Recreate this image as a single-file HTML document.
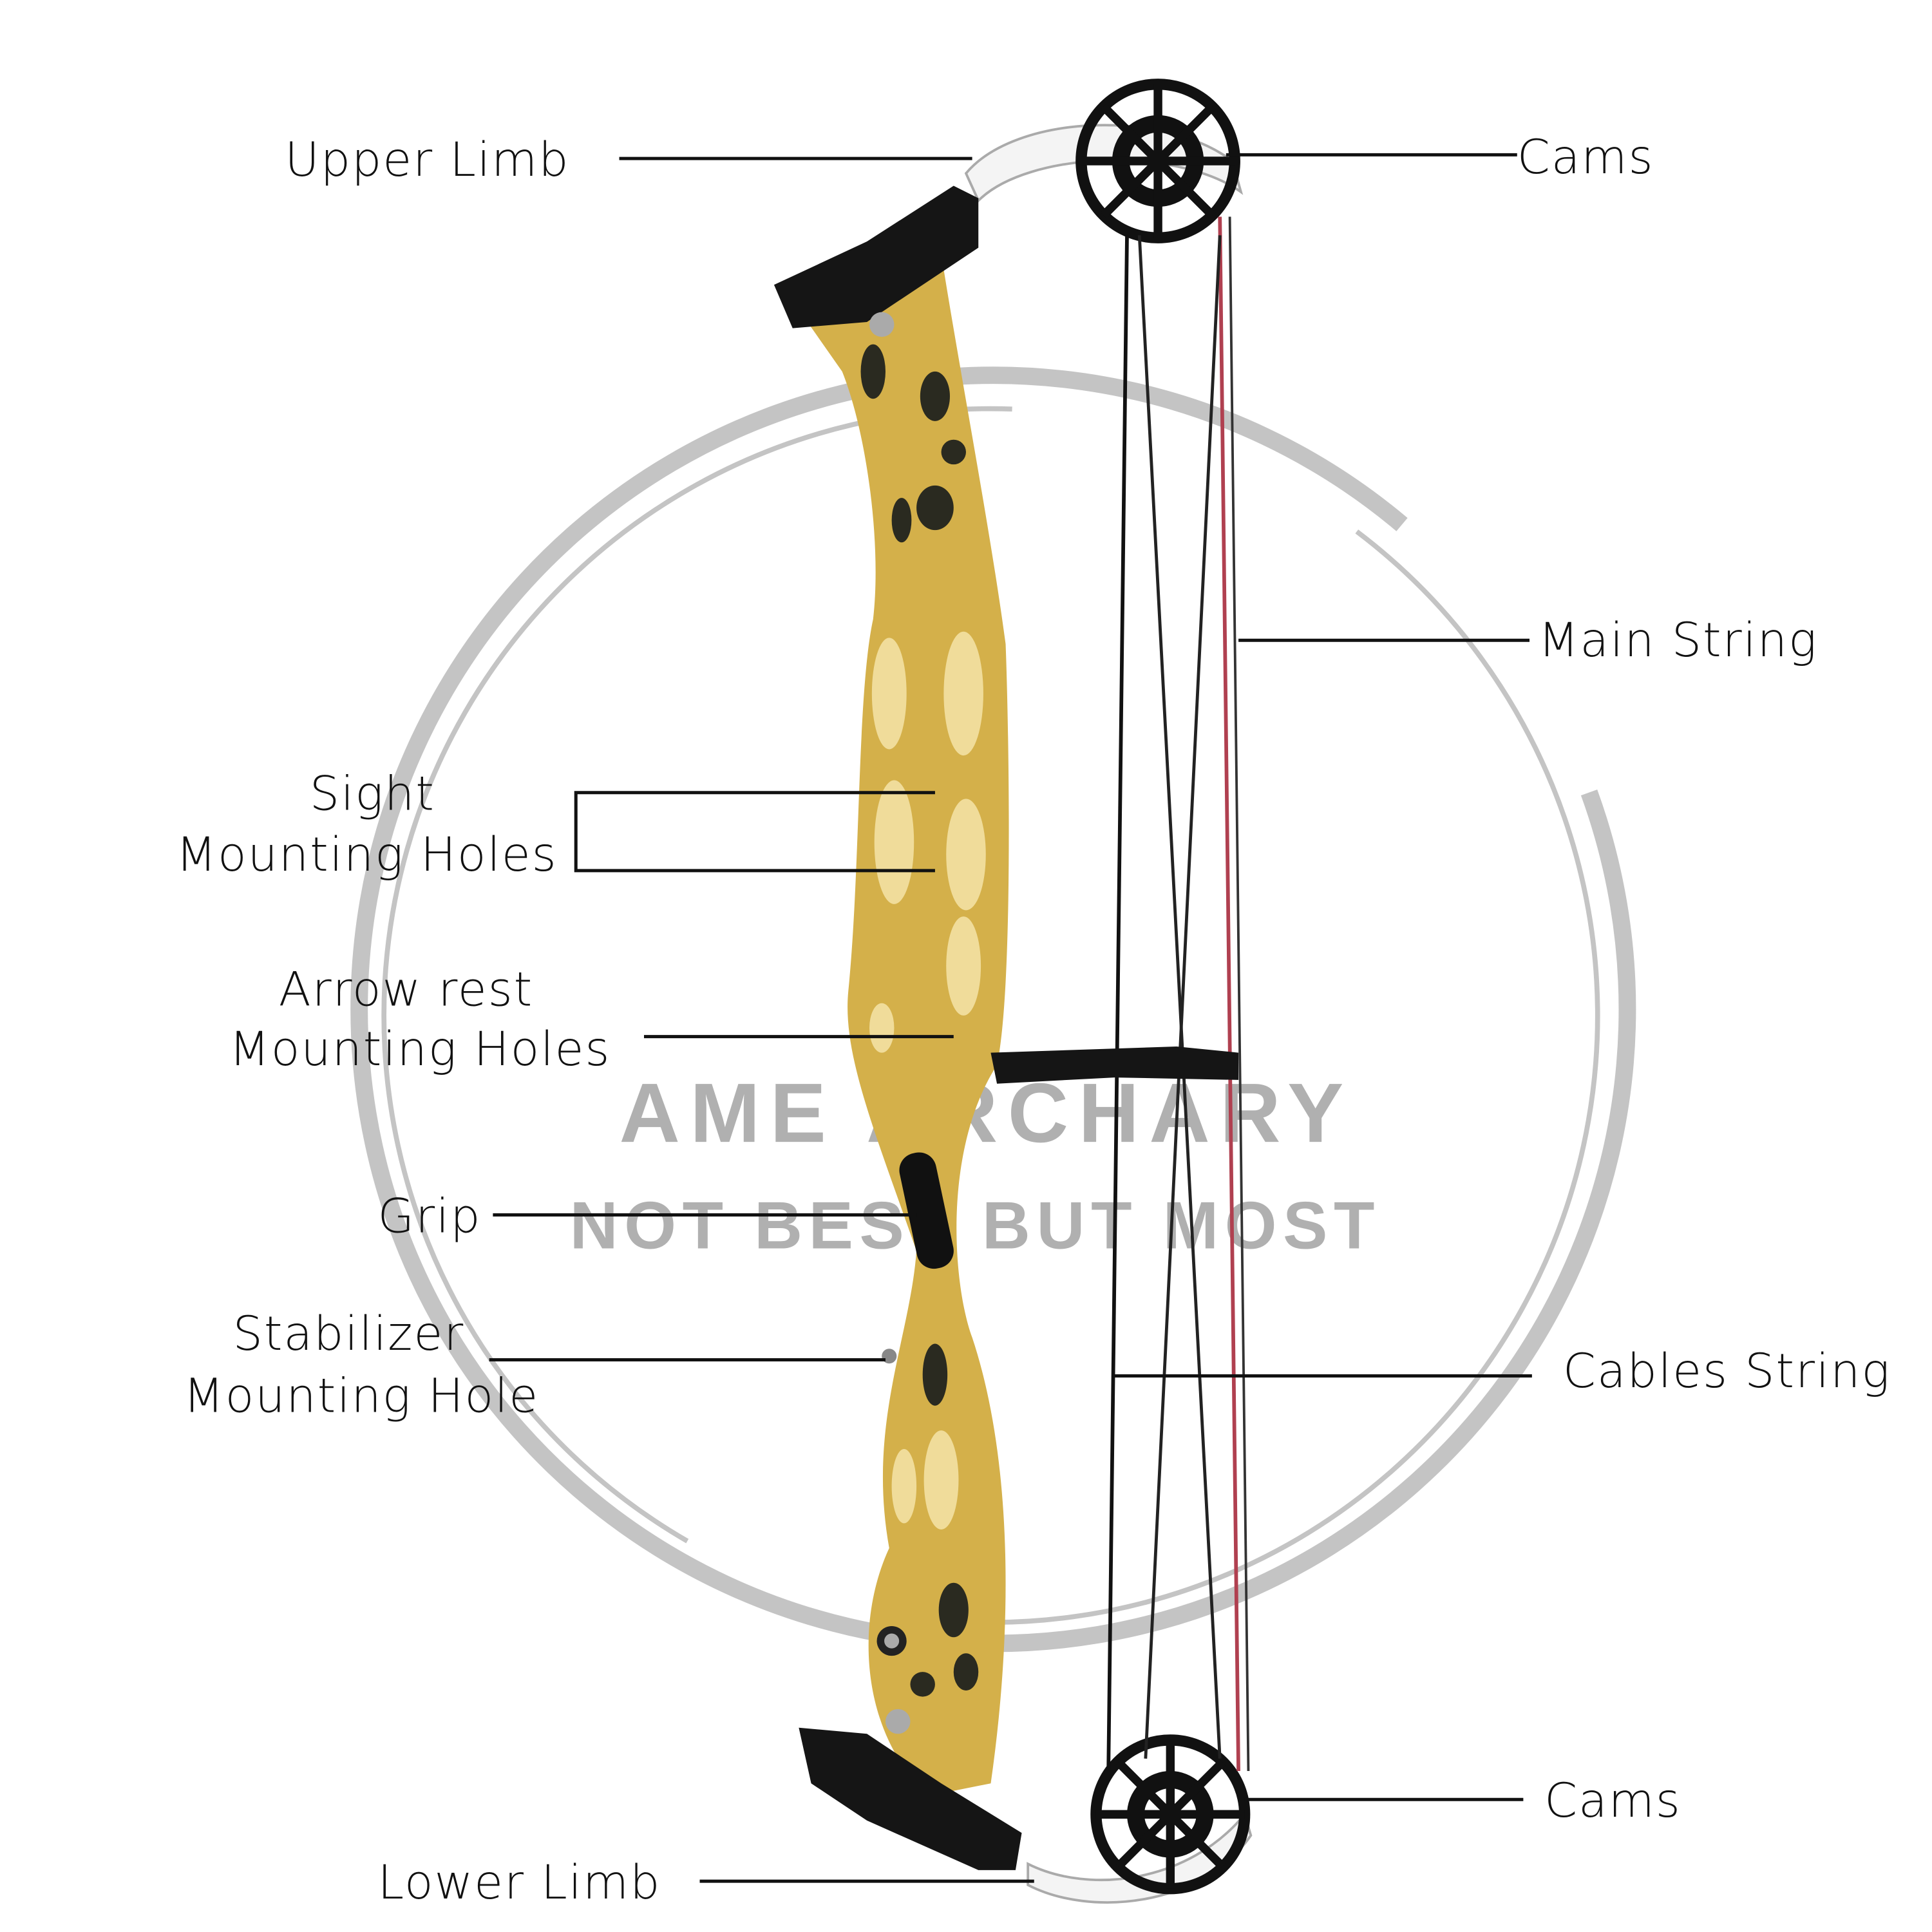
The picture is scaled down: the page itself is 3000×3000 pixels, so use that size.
<!DOCTYPE html>
<html><head><meta charset="utf-8"><style>
html,body{margin:0;padding:0;background:#fff;}
svg{display:block;}
.l{font-family:"DejaVu Sans","Liberation Sans",sans-serif;font-size:38px;fill:#111;font-weight:200;letter-spacing:1px;}
.ln{stroke:#111;stroke-width:2.6;fill:none;}
</style></head><body>
<svg width="3000" height="3000" viewBox="0 0 1560 1560" xmlns="http://www.w3.org/2000/svg">
<rect width="1560" height="1560" fill="#fff"/>
<g fill="none" stroke="#c4c4c4">
<circle cx="802" cy="815" r="512" stroke-width="14" stroke-dasharray="2950 267" transform="rotate(-20 802 815)"/>
<circle cx="800" cy="820" r="490" stroke-width="4" stroke-dasharray="1300 300" transform="rotate(120 800 820)"/>
</g>
<g font-family="Liberation Sans,sans-serif" font-weight="bold" fill="#b0b0b0">
<text x="500" y="922" font-size="68" letter-spacing="8">AME ARCHARY</text>
<text x="460" y="1008" font-size="54" letter-spacing="5">NOT BEST BUT MOST</text>
</g>
<path d="M780,140 C820,92 940,88 995,130 L1002,155 C950,118 830,122 790,162 Z" fill="#f4f4f4" stroke="#aaa" stroke-width="2"/>
<path d="M830,1505 C880,1530 960,1520 1005,1465 L1010,1482 C970,1540 880,1548 830,1522 Z" fill="#f4f4f4" stroke="#aaa" stroke-width="2"/>
<g stroke="#111" fill="none">
<circle cx="935" cy="130" r="62" stroke-width="9"/>
<circle cx="935" cy="130" r="30" stroke-width="14"/>
<path d="M935,68 L935,192 M873,130 L997,130 M891,86 L979,174 M979,86 L891,174" stroke-width="7"/>
<circle cx="945" cy="1465" r="60" stroke-width="9"/>
<circle cx="945" cy="1465" r="28" stroke-width="14"/>
<path d="M945,1405 L945,1525 M885,1465 L1005,1465 M903,1423 L987,1507 M987,1423 L903,1507" stroke-width="7"/>
</g>
<line x1="985" y1="175" x2="1000" y2="1430" stroke="#b04050" stroke-width="3"/>
<line x1="993" y1="175" x2="1008" y2="1430" stroke="#333" stroke-width="2"/>
<line x1="910" y1="190" x2="895" y2="1430" stroke="#111" stroke-width="3"/>
<line x1="920" y1="190" x2="985" y2="1420" stroke="#222" stroke-width="2.5"/>
<line x1="985" y1="190" x2="925" y2="1420" stroke="#222" stroke-width="2.5"/>
<path d="M645,250 L720,215 L760,205 C775,300 800,430 812,520 C815,600 818,800 805,860 C760,930 770,1040 785,1080 C815,1170 820,1300 800,1440 L750,1450 C695,1400 690,1310 718,1250 C700,1150 735,1080 740,1010 C705,910 680,850 685,800 C695,700 692,560 705,500 C712,440 700,350 680,300 Z" fill="#d4b04a"/>
<g fill="#2a2a20">
<ellipse cx="705" cy="300" rx="10" ry="22"/><ellipse cx="755" cy="320" rx="12" ry="20"/>
<ellipse cx="755" cy="410" rx="15" ry="18"/><ellipse cx="728" cy="420" rx="8" ry="18"/>
<ellipse cx="770" cy="365" rx="10" ry="10"/>
<ellipse cx="755" cy="1110" rx="10" ry="25"/><ellipse cx="770" cy="1300" rx="12" ry="22"/>
<ellipse cx="780" cy="1350" rx="10" ry="15"/><ellipse cx="745" cy="1360" rx="10" ry="10"/>
</g>
<g fill="#f0dc9a">
<ellipse cx="718" cy="560" rx="14" ry="45"/><ellipse cx="778" cy="560" rx="16" ry="50"/>
<ellipse cx="722" cy="680" rx="16" ry="50"/><ellipse cx="780" cy="690" rx="16" ry="45"/>
<ellipse cx="778" cy="780" rx="14" ry="40"/><ellipse cx="712" cy="830" rx="10" ry="20"/>
<ellipse cx="760" cy="1195" rx="14" ry="40"/><ellipse cx="730" cy="1200" rx="10" ry="30"/>
</g>
<rect x="733" y="930" width="30" height="95" rx="14" fill="#111" transform="rotate(-12 748 977)"/>
<path d="M625,230 L700,195 L770,150 L790,160 L790,200 L700,260 L640,265 Z" fill="#151515"/>
<path d="M645,1395 L700,1400 L760,1440 L825,1480 L820,1510 L790,1510 L700,1470 L655,1440 Z" fill="#151515"/>
<path d="M800,850 L950,845 L1000,850 L1000,872 L900,870 L805,875 Z" fill="#151515"/>
<circle cx="712" cy="262" r="10" fill="#aaa"/><circle cx="720" cy="1325" r="12" fill="#222"/><circle cx="720" cy="1325" r="6" fill="#aaa"/>
<circle cx="725" cy="1390" r="10" fill="#aaa"/><circle cx="718" cy="1095" r="6" fill="#888"/>
<line class="ln" x1="500" y1="128" x2="785" y2="128"/>
<line class="ln" x1="990" y1="125" x2="1225" y2="125"/>
<line class="ln" x1="1000" y1="517" x2="1235" y2="517"/>
<polyline class="ln" points="755,640 465,640 465,703 755,703"/>
<line class="ln" x1="520" y1="837" x2="770" y2="837"/>
<line class="ln" x1="398" y1="981" x2="740" y2="981"/>
<line class="ln" x1="395" y1="1098" x2="715" y2="1098"/>
<line class="ln" x1="900" y1="1111" x2="1237" y2="1111"/>
<line class="ln" x1="1005" y1="1453" x2="1230" y2="1453"/>
<line class="ln" x1="565" y1="1519" x2="835" y2="1519"/>
<text class="l" x="230" y="142">Upper  Limb</text>
<text class="l" x="1225" y="140">Cams</text>
<text class="l" x="1242" y="530">Main  String</text>
<text class="l" x="250" y="654">Sight</text>
<text class="l" x="142" y="703">Mounting  Holes</text>
<text class="l" x="225" y="812">Arrow  rest</text>
<text class="l" x="185" y="860">Mounting  Holes</text>
<text class="l" x="305" y="995">Grip</text>
<text class="l" x="188" y="1090">Stabilizer</text>
<text class="l" x="148" y="1140">Mounting  Hole</text>
<text class="l" x="1262" y="1120">Cables  String</text>
<text class="l" x="1247" y="1467">Cams</text>
<text class="l" x="305" y="1533">Lower  Limb</text>
</svg>
</body></html>
